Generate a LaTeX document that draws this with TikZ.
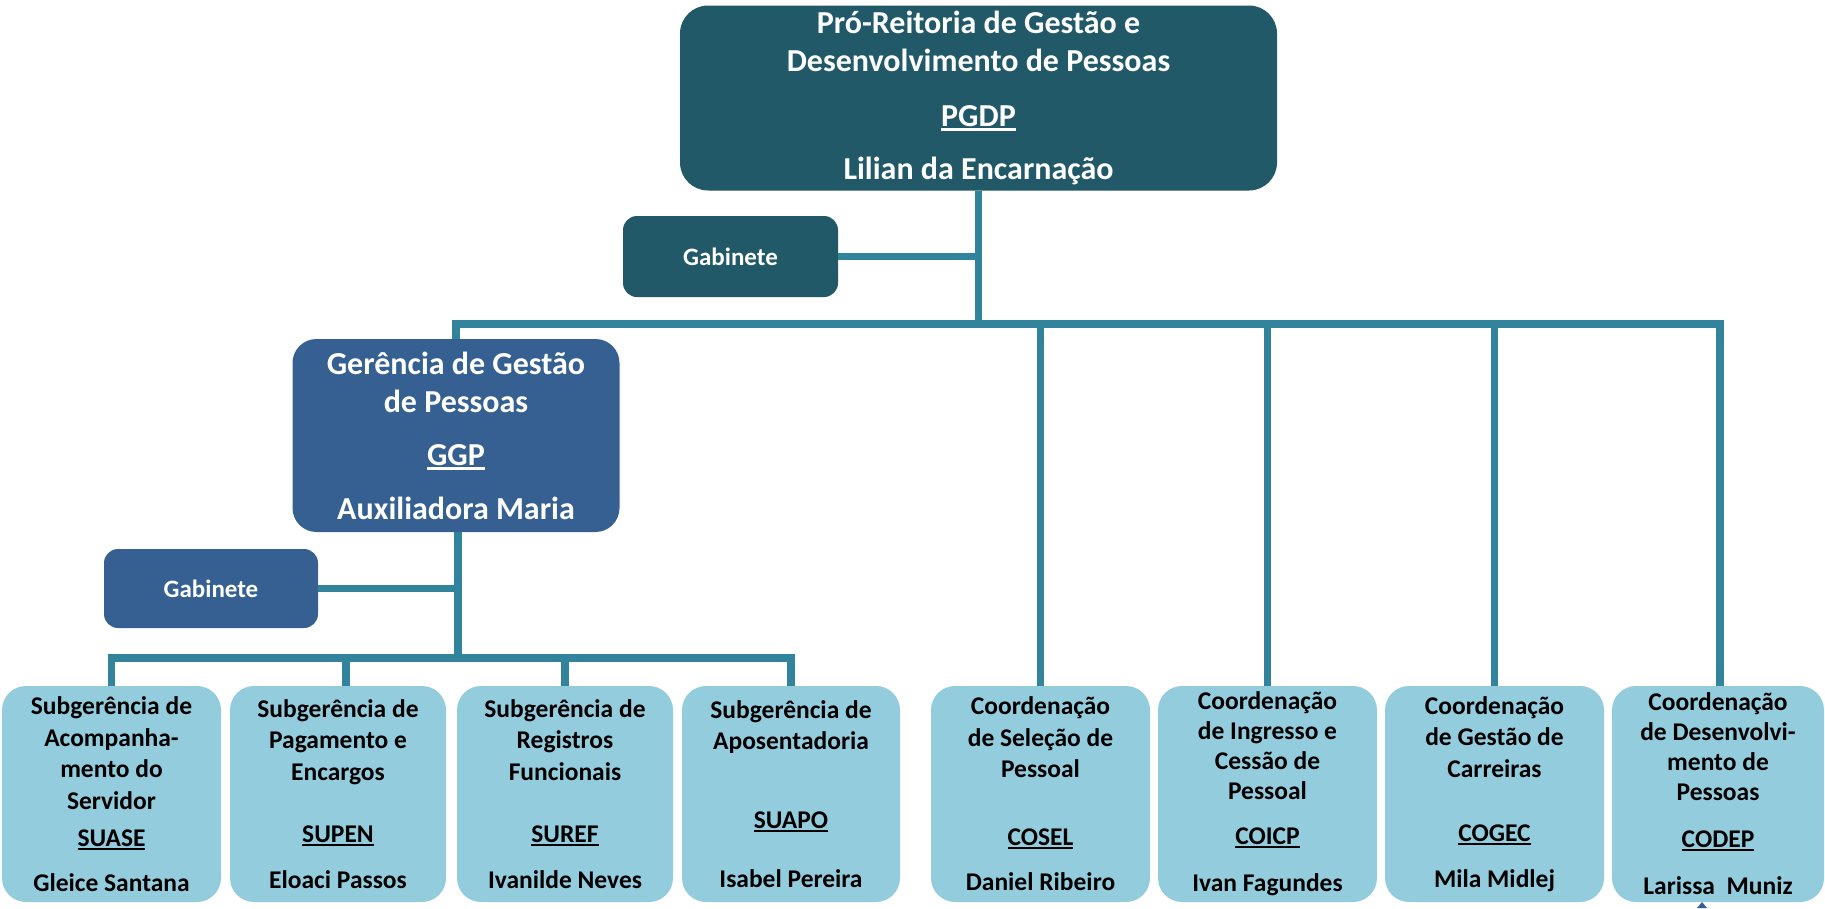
\documentclass[tikz,border=0pt]{standalone}
\usepackage{fontspec}
\setmainfont{Carlito}
\definecolor{topc}{HTML}{215968}
\definecolor{ggpc}{HTML}{366092}
\definecolor{boxc}{HTML}{93CDDD}
\definecolor{linec}{HTML}{31849B}
\newcommand\myulA[1]{\setbox0\hbox{#1}\rlap{\rule[-4.5pt]{\wd0}{2.6pt}}\box0}
\newcommand\myulB[1]{\setbox0\hbox{#1}\rlap{\rule[-3.6pt]{\wd0}{2.1pt}}\box0}
\begin{document}
\begin{tikzpicture}[x=1pt,y=-1pt,
  bigbox/.style={rounded corners=28pt, text=white, align=center, inner sep=0pt,
    font=\bfseries\fontsize{32}{38}\selectfont},
  gabbox/.style={rounded corners=14pt, text=white, align=center, inner sep=0pt,
    font=\bfseries\fontsize{25}{30}\selectfont},
  unitbox/.style={fill=boxc, rounded corners=24pt, text=black, align=center, inner sep=0pt,
    minimum height=216pt, font=\bfseries\fontsize{25.5}{31.5}\selectfont},
  conn/.style={draw=linec, line width=7.5pt, line join=miter}]
\useasboundingbox (0,0) rectangle (1825,908);

% boxes
\node[bigbox, fill=topc, minimum width=597pt, minimum height=185pt] (pgdp) at (978.5,98)
  {Pró-Reitoria de Gestão e\\Desenvolvimento de Pessoas\\[17pt]\myulA{PGDP}\\[15pt]Lilian da Encarnação};
\node[gabbox, fill=topc, minimum width=215pt, minimum height=81pt] (gab1) at (730.5,256.5) {Gabinete};
\node[bigbox, fill=ggpc, rounded corners=24pt, minimum width=327pt, minimum height=193pt] (ggp) at (456,435.5)
  {Gerência de Gestão\\de Pessoas\\[15pt]\myulA{GGP}\\[16pt]Auxiliadora Maria};
\node[gabbox, fill=ggpc, minimum width=214pt, minimum height=79pt] (gab2) at (211,588.5) {Gabinete};

\node[unitbox, minimum width=219pt] (b1) at (111.5,794)
  {Subgerência de\\Acompanha-\\mento do\\Servidor\\[6pt]\myulB{SUASE}\\[13pt]Gleice Santana};
\node[unitbox, minimum width=216pt] (b2) at (338,794)
  {Subgerência de\\Pagamento e\\Encargos\\[31pt]\myulB{SUPEN}\\[14pt]Eloaci Passos};
\node[unitbox, minimum width=216pt] (b3) at (565,794)
  {Subgerência de\\Registros\\Funcionais\\[31pt]\myulB{SUREF}\\[14pt]Ivanilde Neves};
\node[unitbox, minimum width=218pt] (b4) at (791,794)
  {Subgerência de\\Aposentadoria\\[47pt]\myulB{SUAPO}\\[28pt]Isabel Pereira};
\node[unitbox, minimum width=219pt] (b5) at (1040.5,794)
  {Coordenação\\de Seleção de\\Pessoal\\[36pt]\myulB{COSEL}\\[14pt]Daniel Ribeiro};
\node[unitbox, minimum width=219pt, font=\bfseries\fontsize{25.5}{30}\selectfont] (b6) at (1267.5,794)
  {Coordenação\\de Ingresso e\\Cessão de\\Pessoal\\[15pt]\myulB{COICP}\\[17pt]Ivan Fagundes};
\node[unitbox, minimum width=219pt] (b7) at (1494.5,794)
  {Coordenação\\de Gestão de\\Carreiras\\[33pt]\myulB{COGEC}\\[14pt]Mila Midlej};
\node[unitbox, minimum width=212pt, font=\bfseries\fontsize{25.5}{30}\selectfont] (b8) at (1718,794)
  {Coordenação\\de Desenvolvi-\\mento de\\Pessoas\\[17pt]\myulB{CODEP}\\[17pt]Larissa\ \ Muniz};

% connector coordinates
\coordinate (bus0) at (978.5,324);
\coordinate (busL) at (456,324);
\coordinate (busR) at (1720,324);
\coordinate (bus2) at (458,658);
\coordinate (s2) at (346,658);

% connectors
\draw[conn] (pgdp.south) -- (bus0);
\draw[conn] (gab1.east) -- (gab1.east -| bus0);
\draw[conn] (ggp.north) -- (busL) -- (busR) -- (busR |- b8.north);
\draw[conn] (b5.north |- bus0) -- (b5.north);
\draw[conn] (b6.north |- bus0) -- (b6.north);
\draw[conn] (b7.north |- bus0) -- (b7.north);
\draw[conn] (ggp.south -| bus2) -- (bus2);
\draw[conn] (gab2.east) -- (gab2.east -| bus2);
\draw[conn] (b1.north) -- (b1.north |- bus2) -- (b4.north |- bus2) -- (b4.north);
\draw[conn] (s2) -- (s2 |- b2.north);
\draw[conn] (b3.north |- bus2) -- (b3.north);

% small mark below the last box
\fill[ggpc] (1697,908) -- (1702,902) -- (1707,908) -- cycle;
\end{tikzpicture}
\end{document}
